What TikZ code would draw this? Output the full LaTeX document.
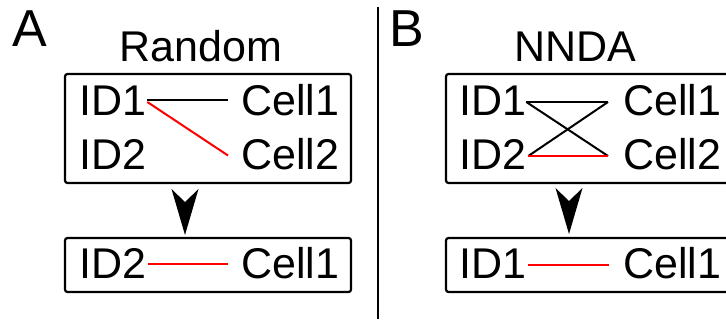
\documentclass[tikz,border=0pt]{standalone}
\usepackage{fontspec}
\setmainfont{Liberation Sans}
\usetikzlibrary{calc}
\begin{document}
\begin{tikzpicture}[x=1pt,y=-1pt,
  txt/.style={inner sep=0pt, anchor=base west, font=\fontsize{43}{50}\selectfont, text height=31pt, text depth=0pt},
  panellab/.style={inner sep=0pt, anchor=base west, font=\fontsize{52}{60}\selectfont},
  boxst/.style={draw=black, line width=2.2pt, rounded corners=2.5pt, inner sep=0pt},
  link/.style={line width=2pt, black},
  redlink/.style={line width=2pt, red},
  divider/.style={line width=2.2pt, black}]
\useasboundingbox (0,0) rectangle (726,321);
\begin{scope}
\clip (0,0) rectangle (726,321);
\fill[white] (0,0) rectangle (726,321);

% ---------- Panel A ----------
\node[panellab] (labA) at (12,47) {A};
\node[txt] (titleA) at (119.5,62) {Random};
\draw[boxst] (65,74) rectangle (351,183);
\draw[boxst] (65,238) rectangle (351,292);
\node[txt] (aID1) at (79,115) {ID1};
\node[txt] (aID2) at (79,169) {ID2};
\node[txt] (aCell1) at (241,115) {Cell1};
\node[txt] (aCell2) at (241,169) {Cell2};
\node[txt] (aoID2) at (79,278) {ID2};
\node[txt] (aoCell1) at (241,278) {Cell1};
\draw[link] ($(aID1.east)+(1,0.5)$) -- ($(aCell1.west)+(-13,0.5)$);
\draw[redlink] ($(aID1.east)+(1,2.5)$) -- ($(aCell2.west)+(-13,2)$);
\draw[redlink] ($(aoID2.east)+(1.5,1.5)$) -- ($(aoCell1.west)+(-13,1.5)$);
\coordinate (tipA) at (185,235);
\fill[black] (tipA) .. controls ($(tipA)+(-6,-23)$) .. ($(tipA)+(-13.5,-46)$)
  -- ($(tipA)+(0,-33)$) -- ($(tipA)+(13.5,-46)$)
  .. controls ($(tipA)+(6,-23)$) .. (tipA) -- cycle;

% ---------- Divider ----------
\coordinate (divTop) at (378,7);
\coordinate (divBot) at (378,319);
\draw[divider] (divTop) -- (divBot);

% ---------- Panel B ----------
\node[panellab] (labB) at (389,47) {B};
\node[txt] (titleB) at (514,62) {NNDA};
\draw[boxst] (446,74) rectangle (745,183);
\draw[boxst] (446,238) rectangle (745,292);
\node[txt] (bID1) at (459,115) {ID1};
\node[txt] (bID2) at (459,169) {ID2};
\node[txt] (bCell1) at (623,115) {Cell1};
\node[txt] (bCell2) at (623,169) {Cell2};
\node[txt] (boID1) at (459,278) {ID1};
\node[txt] (boCell1) at (623,278) {Cell1};
\draw[link] ($(bID1.east)+(0,2.5)$) -- ($(bCell1.west)+(-15,2.5)$);
\draw[link] ($(bID1.east)+(0,2.5)$) -- ($(bCell2.west)+(-15,2.5)$);
\draw[link] ($(bCell1.west)+(-15,2.5)$) -- ($(bID2.east)+(2,2.5)$);
\draw[redlink] ($(bID2.east)+(2,2.5)$) -- ($(bCell2.west)+(-15,2.5)$);
\draw[redlink] ($(boID1.east)+(2,2)$) -- ($(boCell1.west)+(-14,2)$);
\coordinate (tipB) at (569,234);
\fill[black] (tipB) .. controls ($(tipB)+(-6,-23)$) .. ($(tipB)+(-13.5,-46)$)
  -- ($(tipB)+(0,-33)$) -- ($(tipB)+(13.5,-46)$)
  .. controls ($(tipB)+(6,-23)$) .. (tipB) -- cycle;
\end{scope}
\end{tikzpicture}
\end{document}
